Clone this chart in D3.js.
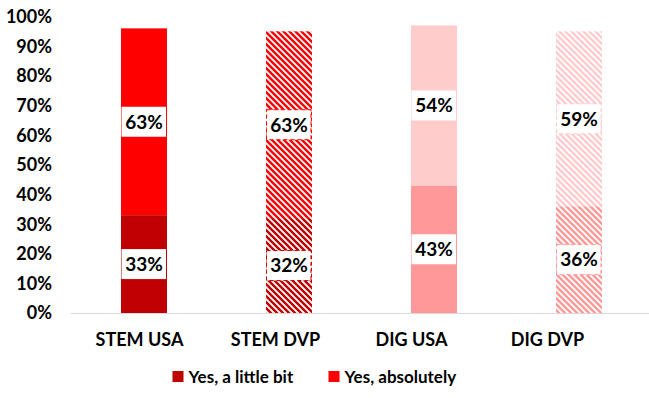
<!DOCTYPE html>
<html>
<head>
<meta charset="utf-8">
<script src="https://cdn.jsdelivr.net/npm/d3@7"></script>
<style>
body { margin: 0; background: #fff; }
text { font-family: Lato, "Liberation Sans", sans-serif; font-weight: 700; fill: #000; }
</style>
</head>
<body>
<script>
// data
var categories = ["STEM USA", "STEM DVP", "DIG USA", "DIG DVP"];
var littleBit = [0.33, 0.32, 0.43, 0.36];
var absolutely = [0.63, 0.63, 0.54, 0.59];
var seriesNames = ["Yes, a little bit", "Yes, absolutely"];
var yTicks = [0, 0.1, 0.2, 0.3, 0.4, 0.5, 0.6, 0.7, 0.8, 0.9, 1];

// styles per bar
var littleColor = ["#C00000", "#C00000", "#FF9999", "#FF9999"];
var absColor = ["#FF0000", "#FF0000", "#FFCCCC", "#FFCCCC"];
var hatched = [false, true, false, true];

var w = 649, h = 398;
var svg = d3.select("body").append("svg")
    .attr("width", w)
    .attr("height", h);

var x = d3.scaleBand()
    .domain(categories)
    .range([71.5, 651.5])
    .paddingInner(0.683)
    .paddingOuter(0.3415);

// category labels sit a bit left of the bars in the original
var xLab = d3.scaleBand()
    .domain(categories)
    .range([71.5, 615.5]);

var y = d3.scaleLinear()
    .domain([0, 1])
    .range([313, 16.5]);

// hatch patterns
var defs = svg.append("defs");
var patColors = ["#C00000", "#FF0000", "#FF9999", "#FFCCCC"];
patColors.forEach(function(c){
    var p = defs.append("pattern")
        .attr("id", "hatch" + c.slice(1))
        .attr("patternUnits", "userSpaceOnUse")
        .attr("width", 6)
        .attr("height", 6);
    p.append("rect").attr("width", 6).attr("height", 6).attr("fill", "#fff");
    p.append("path")
        .attr("d", "M-3,3 L3,9 M0,0 L6,6 M3,-3 L9,3")
        .attr("stroke", c)
        .attr("stroke-width", 2.4);
});

function fillFor(c, i){
    return hatched[i] ? "url(#hatch" + c.slice(1) + ")" : c;
}

// stacked rows
var rows = categories.map(function(cat, i){
    return [
        {cat: cat, i: i, y0: 0, y1: littleBit[i], v: littleBit[i], color: littleColor[i]},
        {cat: cat, i: i, y0: littleBit[i], y1: littleBit[i] + absolutely[i], v: absolutely[i], color: absColor[i]}
    ];
});
var segs = d3.merge(rows);

svg.append("g").selectAll("rect")
    .data(segs)
    .enter()
    .append("rect")
    .attr("x", function(d){ return x(d.cat); })
    .attr("width", x.bandwidth())
    .attr("y", function(d){ return y(d.y1); })
    .attr("height", function(d){ return y(d.y0) - y(d.y1); })
    .attr("fill", function(d){ return fillFor(d.color, d.i); });

// baseline
svg.append("line")
    .attr("x1", 71)
    .attr("x2", w)
    .attr("y1", y(0) + 0.5)
    .attr("y2", y(0) + 0.5)
    .attr("stroke", "#D9D9D9")
    .attr("stroke-width", 1);

// value labels in white boxes
var lab = svg.append("g").selectAll("g")
    .data(segs)
    .enter()
    .append("g")
    .attr("transform", function(d){
        return "translate(" + (x(d.cat) + x.bandwidth() / 2) + "," + y((d.y0 + d.y1) / 2) + ")";
    });
lab.append("rect")
    .attr("x", -x.bandwidth() / 2 + 0.5)
    .attr("y", -15)
    .attr("width", x.bandwidth() - 1.5)
    .attr("height", 30)
    .attr("fill", "#fff")
    .attr("stroke", function(d){ return hatched[d.i] ? d.color : "none"; })
    .attr("stroke-dasharray", "4,3")
    .attr("stroke-width", 1);
lab.append("text")
    .attr("text-anchor", "middle")
    .attr("dy", "0.36em")
    .style("font-size", "19px")
    .text(function(d){ return d3.format(".0%")(d.v); });

// y axis labels
svg.append("g").selectAll("text")
    .data(yTicks)
    .enter()
    .append("text")
    .attr("x", 52)
    .attr("y", function(d){ return y(d); })
    .attr("dy", "0.36em")
    .attr("text-anchor", "end")
    .style("font-size", "18px")
    .text(function(d){ return d3.format(".0%")(d); });

// category labels
svg.append("g").selectAll("text")
    .data(categories)
    .enter()
    .append("text")
    .attr("x", function(d){ return xLab(d) + xLab.bandwidth() / 2; })
    .attr("y", 340)
    .attr("dy", "0.36em")
    .attr("text-anchor", "middle")
    .style("font-size", "18px")
    .text(function(d){ return d; });

// legend
var legX = [172.5, 328.5];
var leg = svg.append("g").selectAll("g")
    .data(seriesNames)
    .enter()
    .append("g")
    .attr("transform", function(d, i){ return "translate(" + legX[i] + ",371)"; });
leg.append("rect")
    .attr("width", 11)
    .attr("height", 11)
    .attr("fill", function(d, i){ return i === 0 ? littleColor[0] : absColor[0]; });
leg.append("text")
    .attr("x", 16)
    .attr("y", 6)
    .attr("dy", "0.36em")
    .style("font-size", "17px")
    .text(function(d){ return d; });
</script>
</body>
</html>
